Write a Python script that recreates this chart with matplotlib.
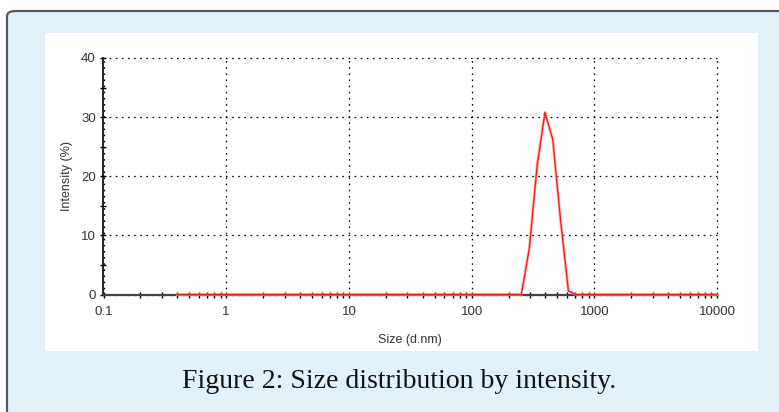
#!/usr/bin/env python3

import matplotlib.pyplot as plt
from matplotlib.patches import FancyBboxPatch, Rectangle
from matplotlib.ticker import FixedLocator, NullFormatter


# size bins (d.nm) and intensity (%)
SIZES = [0.4, 254.2, 295.3, 342.0, 396.1, 458.7, 531.2, 615.1, 712.4, 10000]
INTENSITY = [0, 0, 7.8, 21.8, 30.8, 26.2, 12.5, 0.6, 0, 0]

X_TICKS = [0.1, 1, 10, 100, 1000, 10000]
X_LABELS = ["0.1", "1", "10", "100", "1000", "10000"]
Y_TICKS = [0, 10, 20, 30, 40]

CAPTION = "Figure 2: Size distribution by intensity."


def main():
    fig = plt.figure(figsize=(7.79, 4.12), dpi=100)
    fig.patch.set_facecolor("white")

    # light blue frame with dark border on top/left
    frame = FancyBboxPatch((7 / 779, -0.05), 1.1, 1 - 11 / 412 + 0.05,
                           boxstyle="round,pad=0,rounding_size=0.012",
                           transform=fig.transFigure, facecolor="#e0f1fb",
                           edgecolor="#5a5a5a", linewidth=1.6, zorder=0)
    fig.patches.append(frame)

    # white plot panel
    panel = Rectangle((44.7 / 779, (412 - 350.7) / 412), (758 - 44.7) / 779, 318 / 412,
                      transform=fig.transFigure, facecolor="white",
                      edgecolor="none", zorder=1)
    fig.patches.append(panel)

    ax = fig.add_axes([103.5 / 779, (412 - 294.5) / 412, 613.5 / 779, 236.5 / 412])
    ax.set_facecolor("white")
    ax.set_zorder(2)

    # faint pink halo then the red trace
    ax.plot(SIZES, INTENSITY, color="#ff9a9a", linewidth=2.2, alpha=0.6, zorder=4, clip_on=False)
    ax.plot(SIZES, INTENSITY, color="#ff1a1a", linewidth=1.0, zorder=5, clip_on=False)

    ax.set_xscale("log")
    ax.set_xlim(0.1, 10000)
    ax.set_ylim(0, 40)

    ax.xaxis.set_major_locator(FixedLocator(X_TICKS))
    ax.set_xticklabels(X_LABELS)
    minors = [m * d for d in X_TICKS[:-1] for m in range(2, 10)]
    ax.xaxis.set_minor_locator(FixedLocator(minors))
    ax.xaxis.set_minor_formatter(NullFormatter())
    ax.set_yticks(Y_TICKS)
    ax.yaxis.set_minor_locator(FixedLocator([5, 15, 25, 35]))

    ax.grid(True, which="major", color="black", linestyle=(0, (1.3, 3.6)), linewidth=0.9)
    for line in ax.get_xgridlines() + ax.get_ygridlines():
        line.set_clip_on(False)

    for side in ("top", "right"):
        ax.spines[side].set_visible(False)
    ax.spines["left"].set_color("black")
    ax.spines["left"].set_linewidth(1.2)
    ax.spines["bottom"].set_color("#444444")
    ax.spines["bottom"].set_linewidth(1.6)

    ax.tick_params(which="major", direction="inout", length=5, width=1.0,
                   color="black", labelsize=9.5, pad=3, labelcolor="#333333")
    ax.tick_params(axis="x", which="major", pad=6)
    ax.tick_params(which="minor", direction="inout", length=4.5, width=1.0, color="black")
    for lab in ax.get_xticklabels() + ax.get_yticklabels():
        lab.set_family("Liberation Sans")

    ax.set_xlabel("Size (d.nm)", fontsize=9, family="Liberation Sans",
                  color="#333333", labelpad=11)
    ax.set_ylabel("Intensity (%)", fontsize=9, family="Liberation Sans",
                  color="#333333", labelpad=6)

    fig.text(399.5 / 779, 1 - 382 / 412, CAPTION, ha="center", va="center",
             fontsize=20, family="Liberation Serif", color="#111111")

    fig.savefig("out.png", dpi=100)
    plt.close(fig)


if __name__ == "__main__":
    main()
